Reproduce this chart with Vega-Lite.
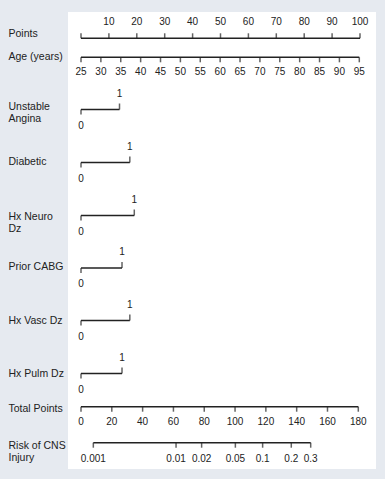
{
  "$schema": "https://vega.github.io/schema/vega-lite/v6.json",
  "background": "#e6eaf0",
  "padding": {"left": 8, "top": 12, "right": 9, "bottom": 10},
  "autosize": {"type": "pad"},
  "bounds": "flush",
  "spacing": 0,
  "config": {
    "font": "Liberation Sans",
    "view": {"fill": "white", "stroke": null},
    "axis": {
      "domain": false, "ticks": false, "labels": false, "grid": false,
      "titleAngle": 0, "titleAlign": "left", "titleBaseline": "middle",
      "titleX": -60, "titleFont": "Liberation Sans", "titleFontSize": 10.5,
      "titleFontWeight": "normal", "titleColor": "#222222", "titleLineHeight": 12.3
    },
    "rule": {"color": "#222222", "strokeWidth": 1.5},
    "tick": {"color": "#222222", "thickness": 1.5},
    "text": {"color": "#222222", "fontSize": 10, "font": "Liberation Sans"}
  },
  "vconcat": [
    {
      "width": 308, "height": 35,
      "data": {"values": [{"pts": 0}, {"pts": 10}, {"pts": 20}, {"pts": 30}, {"pts": 40}, {"pts": 50}, {"pts": 60}, {"pts": 70}, {"pts": 80}, {"pts": 90}, {"pts": 100}]},
      "layer": [
        {"mark": {"type": "rule", "yOffset": 8.8},
         "encoding": {
           "x": {"aggregate": "min", "field": "pts", "type": "quantitative", "scale": {"domain": [0, 100], "range": [13, 292]}, "axis": {"orient": "bottom", "title": "Points", "titleY": -14}},
           "x2": {"aggregate": "max", "field": "pts"}}},
        {"mark": {"type": "tick", "size": 5, "yOffset": 6.3},
         "encoding": {"x": {"field": "pts", "type": "quantitative", "scale": {"domain": [0, 100], "range": [13, 292]}, "axis": {"orient": "bottom", "title": "Points", "titleY": -14}}}},
        {"transform": [{"filter": "datum.pts > 0"}],
         "mark": {"type": "text", "baseline": "middle", "yOffset": -7.8},
         "encoding": {"x": {"field": "pts", "type": "quantitative", "scale": {"domain": [0, 100], "range": [13, 292]}, "axis": {"orient": "bottom", "title": "Points", "titleY": -14}},
                      "text": {"field": "pts", "type": "quantitative", "format": "d"}}}
      ]
    },
    {
      "width": 308, "height": 36,
      "data": {"values": [{"age": 25}, {"age": 30}, {"age": 35}, {"age": 40}, {"age": 45}, {"age": 50}, {"age": 55}, {"age": 60}, {"age": 65}, {"age": 70}, {"age": 75}, {"age": 80}, {"age": 85}, {"age": 90}, {"age": 95}]},
      "layer": [
        {"mark": {"type": "rule", "yOffset": -7.7},
         "encoding": {
           "x": {"aggregate": "min", "field": "age", "type": "quantitative", "scale": {"domain": [25, 95], "range": [13, 291.3]}, "axis": {"orient": "bottom", "title": "Age (years)", "titleY": -26.3}},
           "x2": {"aggregate": "max", "field": "age"}}},
        {"mark": {"type": "tick", "size": 5, "yOffset": -5.2},
         "encoding": {"x": {"field": "age", "type": "quantitative", "scale": {"domain": [25, 95], "range": [13, 291.3]}, "axis": {"orient": "bottom", "title": "Age (years)", "titleY": -26.3}}}},
        {"mark": {"type": "text", "baseline": "middle", "yOffset": 7.3},
         "encoding": {"x": {"field": "age", "type": "quantitative", "scale": {"domain": [25, 95], "range": [13, 291.3]}, "axis": {"orient": "bottom", "title": "Age (years)", "titleY": -26.3}},
                      "text": {"field": "age", "type": "quantitative", "format": "d"}}}
      ]
    },
    {
      "width": 308, "height": 53,
      "data": {"values": [{"level": 0, "pts": 0}, {"level": 1, "pts": 13.8}]},
      "encoding": {"x": {"field": "pts", "type": "quantitative", "scale": {"domain": [0, 100], "range": [13, 292]}, "axis": {"orient": "bottom", "title": ["Unstable", "Angina"], "titleY": -29.3}}},
      "layer": [
        {"mark": {"type": "rule"},
         "encoding": {
           "x": {"aggregate": "min", "field": "pts", "type": "quantitative", "scale": {"domain": [0, 100], "range": [13, 292]}, "axis": {"orient": "bottom", "title": ["Unstable", "Angina"], "titleY": -29.3}},
           "x2": {"aggregate": "max", "field": "pts"}}},
        {"transform": [{"filter": "datum.level == 0"}], "mark": {"type": "tick", "size": 5, "yOffset": 2.5}},
        {"transform": [{"filter": "datum.level == 1"}], "mark": {"type": "tick", "size": 6, "yOffset": -3}},
        {"transform": [{"filter": "datum.level == 0"}], "mark": {"type": "text", "baseline": "middle", "yOffset": 16.3},
         "encoding": {"text": {"field": "level", "type": "quantitative", "format": "d"}}},
        {"transform": [{"filter": "datum.level == 1"}], "mark": {"type": "text", "baseline": "middle", "yOffset": -16},
         "encoding": {"text": {"field": "level", "type": "quantitative", "format": "d"}}}
      ]
    },
    {
      "width": 308, "height": 53,
      "data": {"values": [{"level": 0, "pts": 0}, {"level": 1, "pts": 17.5}]},
      "encoding": {"x": {"field": "pts", "type": "quantitative", "scale": {"domain": [0, 100], "range": [13, 292]}, "axis": {"orient": "bottom", "title": "Diabetic", "titleY": -27.3}}},
      "layer": [
        {"mark": {"type": "rule"},
         "encoding": {
           "x": {"aggregate": "min", "field": "pts", "type": "quantitative", "scale": {"domain": [0, 100], "range": [13, 292]}, "axis": {"orient": "bottom", "title": "Diabetic", "titleY": -27.3}},
           "x2": {"aggregate": "max", "field": "pts"}}},
        {"transform": [{"filter": "datum.level == 0"}], "mark": {"type": "tick", "size": 5, "yOffset": 2.5}},
        {"transform": [{"filter": "datum.level == 1"}], "mark": {"type": "tick", "size": 6, "yOffset": -3}},
        {"transform": [{"filter": "datum.level == 0"}], "mark": {"type": "text", "baseline": "middle", "yOffset": 16.3},
         "encoding": {"text": {"field": "level", "type": "quantitative", "format": "d"}}},
        {"transform": [{"filter": "datum.level == 1"}], "mark": {"type": "text", "baseline": "middle", "yOffset": -16},
         "encoding": {"text": {"field": "level", "type": "quantitative", "format": "d"}}}
      ]
    },
    {
      "width": 308, "height": 53,
      "data": {"values": [{"level": 0, "pts": 0}, {"level": 1, "pts": 19.1}]},
      "encoding": {"x": {"field": "pts", "type": "quantitative", "scale": {"domain": [0, 100], "range": [13, 292]}, "axis": {"orient": "bottom", "title": ["Hx Neuro", "Dz"], "titleY": -26}}},
      "layer": [
        {"mark": {"type": "rule"},
         "encoding": {
           "x": {"aggregate": "min", "field": "pts", "type": "quantitative", "scale": {"domain": [0, 100], "range": [13, 292]}, "axis": {"orient": "bottom", "title": ["Hx Neuro", "Dz"], "titleY": -26}},
           "x2": {"aggregate": "max", "field": "pts"}}},
        {"transform": [{"filter": "datum.level == 0"}], "mark": {"type": "tick", "size": 5, "yOffset": 2.5}},
        {"transform": [{"filter": "datum.level == 1"}], "mark": {"type": "tick", "size": 6, "yOffset": -3}},
        {"transform": [{"filter": "datum.level == 0"}], "mark": {"type": "text", "baseline": "middle", "yOffset": 16.3},
         "encoding": {"text": {"field": "level", "type": "quantitative", "format": "d"}}},
        {"transform": [{"filter": "datum.level == 1"}], "mark": {"type": "text", "baseline": "middle", "yOffset": -16},
         "encoding": {"text": {"field": "level", "type": "quantitative", "format": "d"}}}
      ]
    },
    {
      "width": 308, "height": 52,
      "data": {"values": [{"level": 0, "pts": 0}, {"level": 1, "pts": 14.7}]},
      "encoding": {"x": {"field": "pts", "type": "quantitative", "scale": {"domain": [0, 100], "range": [13, 292]}, "axis": {"orient": "bottom", "title": "Prior CABG", "titleY": -27.3}}},
      "layer": [
        {"mark": {"type": "rule"},
         "encoding": {
           "x": {"aggregate": "min", "field": "pts", "type": "quantitative", "scale": {"domain": [0, 100], "range": [13, 292]}, "axis": {"orient": "bottom", "title": "Prior CABG", "titleY": -27.3}},
           "x2": {"aggregate": "max", "field": "pts"}}},
        {"transform": [{"filter": "datum.level == 0"}], "mark": {"type": "tick", "size": 5, "yOffset": 2.5}},
        {"transform": [{"filter": "datum.level == 1"}], "mark": {"type": "tick", "size": 6, "yOffset": -3}},
        {"transform": [{"filter": "datum.level == 0"}], "mark": {"type": "text", "baseline": "middle", "yOffset": 16.3},
         "encoding": {"text": {"field": "level", "type": "quantitative", "format": "d"}}},
        {"transform": [{"filter": "datum.level == 1"}], "mark": {"type": "text", "baseline": "middle", "yOffset": -16},
         "encoding": {"text": {"field": "level", "type": "quantitative", "format": "d"}}}
      ]
    },
    {
      "width": 308, "height": 53,
      "data": {"values": [{"level": 0, "pts": 0}, {"level": 1, "pts": 17.5}]},
      "encoding": {"x": {"field": "pts", "type": "quantitative", "scale": {"domain": [0, 100], "range": [13, 292]}, "axis": {"orient": "bottom", "title": "Hx Vasc Dz", "titleY": -27}}},
      "layer": [
        {"mark": {"type": "rule"},
         "encoding": {
           "x": {"aggregate": "min", "field": "pts", "type": "quantitative", "scale": {"domain": [0, 100], "range": [13, 292]}, "axis": {"orient": "bottom", "title": "Hx Vasc Dz", "titleY": -27}},
           "x2": {"aggregate": "max", "field": "pts"}}},
        {"transform": [{"filter": "datum.level == 0"}], "mark": {"type": "tick", "size": 5, "yOffset": 2.5}},
        {"transform": [{"filter": "datum.level == 1"}], "mark": {"type": "tick", "size": 6, "yOffset": -3}},
        {"transform": [{"filter": "datum.level == 0"}], "mark": {"type": "text", "baseline": "middle", "yOffset": 16.3},
         "encoding": {"text": {"field": "level", "type": "quantitative", "format": "d"}}},
        {"transform": [{"filter": "datum.level == 1"}], "mark": {"type": "text", "baseline": "middle", "yOffset": -16},
         "encoding": {"text": {"field": "level", "type": "quantitative", "format": "d"}}}
      ]
    },
    {
      "width": 308, "height": 53,
      "data": {"values": [{"level": 0, "pts": 0}, {"level": 1, "pts": 14.7}]},
      "encoding": {"x": {"field": "pts", "type": "quantitative", "scale": {"domain": [0, 100], "range": [13, 292]}, "axis": {"orient": "bottom", "title": "Hx Pulm Dz", "titleY": -26.7}}},
      "layer": [
        {"mark": {"type": "rule"},
         "encoding": {
           "x": {"aggregate": "min", "field": "pts", "type": "quantitative", "scale": {"domain": [0, 100], "range": [13, 292]}, "axis": {"orient": "bottom", "title": "Hx Pulm Dz", "titleY": -26.7}},
           "x2": {"aggregate": "max", "field": "pts"}}},
        {"transform": [{"filter": "datum.level == 0"}], "mark": {"type": "tick", "size": 5, "yOffset": 2.5}},
        {"transform": [{"filter": "datum.level == 1"}], "mark": {"type": "tick", "size": 6, "yOffset": -3}},
        {"transform": [{"filter": "datum.level == 0"}], "mark": {"type": "text", "baseline": "middle", "yOffset": 16.3},
         "encoding": {"text": {"field": "level", "type": "quantitative", "format": "d"}}},
        {"transform": [{"filter": "datum.level == 1"}], "mark": {"type": "text", "baseline": "middle", "yOffset": -16},
         "encoding": {"text": {"field": "level", "type": "quantitative", "format": "d"}}}
      ]
    },
    {
      "width": 308, "height": 30,
      "data": {"values": [{"total": 0}, {"total": 20}, {"total": 40}, {"total": 60}, {"total": 80}, {"total": 100}, {"total": 120}, {"total": 140}, {"total": 160}, {"total": 180}]},
      "encoding": {"x": {"field": "total", "type": "quantitative", "scale": {"domain": [0, 180], "range": [13, 290.3]}, "axis": {"orient": "bottom", "title": "Total Points", "titleY": -21.7}}},
      "layer": [
        {"mark": {"type": "rule", "yOffset": -8.3},
         "encoding": {
           "x": {"aggregate": "min", "field": "total", "type": "quantitative", "scale": {"domain": [0, 180], "range": [13, 290.3]}, "axis": {"orient": "bottom", "title": "Total Points", "titleY": -21.7}},
           "x2": {"aggregate": "max", "field": "total"}}},
        {"mark": {"type": "tick", "size": 5, "yOffset": -5.8}},
        {"mark": {"type": "text", "baseline": "middle", "yOffset": 7.3},
         "encoding": {"text": {"field": "total", "type": "quantitative", "format": "d"}}}
      ]
    },
    {
      "width": 308, "height": 39,
      "data": {"values": [
        {"risk": "0.001", "total": 8.0},
        {"risk": "0.01", "total": 61.7},
        {"risk": "0.02", "total": 78.3},
        {"risk": "0.05", "total": 100.2},
        {"risk": "0.1", "total": 117.9},
        {"risk": "0.2", "total": 136.5},
        {"risk": "0.3", "total": 149.1}
      ]},
      "encoding": {"x": {"field": "total", "type": "quantitative", "scale": {"domain": [0, 180], "range": [13, 290.3]}, "axis": {"orient": "bottom", "title": ["Risk of CNS", "Injury"], "titleY": -24}}},
      "layer": [
        {"mark": {"type": "rule", "yOffset": -6.8},
         "encoding": {
           "x": {"aggregate": "min", "field": "total", "type": "quantitative", "scale": {"domain": [0, 180], "range": [13, 290.3]}, "axis": {"orient": "bottom", "title": ["Risk of CNS", "Injury"], "titleY": -24}},
           "x2": {"aggregate": "max", "field": "total"}}},
        {"mark": {"type": "tick", "size": 5, "yOffset": -4.3}},
        {"mark": {"type": "text", "baseline": "middle", "yOffset": 9},
         "encoding": {"text": {"field": "risk", "type": "nominal"}}}
      ]
    }
  ]
}
